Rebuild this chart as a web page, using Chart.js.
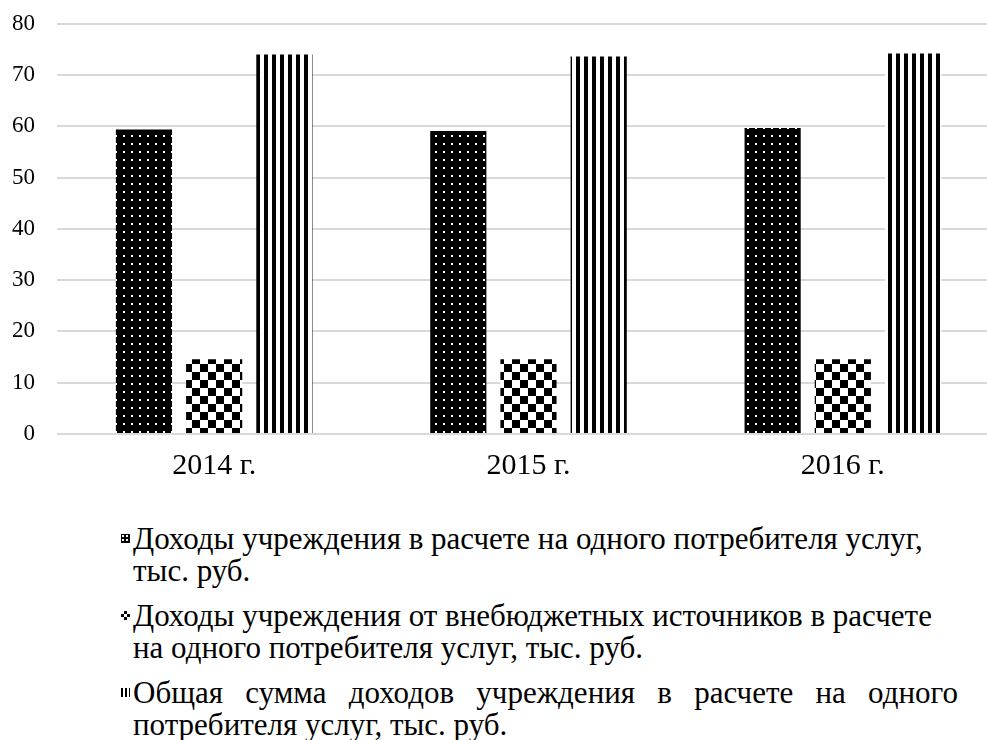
<!DOCTYPE html>
<html lang="ru">
<head>
<meta charset="utf-8">
<script src="https://cdn.jsdelivr.net/npm/chart.js@4"></script>
<style>
  html, body { margin: 0; padding: 0; background: #fff; overflow: hidden; }
  body { width: 987px; height: 740px; position: relative; }
  #wrap { position: absolute; left: 0; top: -12px; width: 1000px; height: 510px; }
  .legend { position: absolute; left: 0; top: 523px; width: 987px;
    font-family: "Liberation Serif", "Times New Roman", serif; font-size: 31px;
    line-height: 32px; color: #000; }
  .item { position: relative; padding-left: 133px; width: 825px; margin-bottom: 13px; }
  .item.just { text-align: justify; }
  .sw { position: absolute; left: 121px; top: 11px; width: 9px; height: 9px; }
</style>
</head>
<body>
<div id="wrap"><canvas id="grafico"></canvas></div>
<div class="legend" id="legenda"></div>

<script>
// ----- dados -----
const anos = ['2014 г.', '2015 г.', '2016 г.'];
const serieNomes = [
  'Доходы учреждения в расчете на одного потребителя услуг, тыс. руб.',
  'Доходы учреждения от внебюджетных источников в расчете на одного потребителя услуг, тыс. руб.',
  'Общая сумма доходов учреждения в расчете на одного потребителя услуг, тыс. руб.'
];
const dohodyNaPotrebitelya = [59.4, 59.1, 59.7];
const vnebyudzhetnye = [14.6, 14.6, 14.6];
const obshchayaSumma = [74.0, 73.6, 74.2];
const yTicks = [0, 10, 20, 30, 40, 50, 60, 70, 80];

// ----- padrões (hachuras) -----
function makePattern(size, draw) {
  const c = document.createElement('canvas');
  c.width = size; c.height = size;
  const g = c.getContext('2d');
  draw(g, size);
  return c;
}

const tileDots = makePattern(8, (g, s) => {
  g.fillStyle = '#000'; g.fillRect(0, 0, s, s);
  g.fillStyle = '#fff'; g.fillRect(3, 3, 2, 2);
});
const tileCheck = makePattern(16, (g, s) => {
  g.fillStyle = '#fff'; g.fillRect(0, 0, s, s);
  g.fillStyle = '#000'; g.fillRect(0, 0, 8, 8); g.fillRect(8, 8, 8, 8);
});
const tileStripes = makePattern(8, (g, s) => {
  g.fillStyle = '#fff'; g.fillRect(0, 0, s, s);
  g.fillStyle = '#000'; g.fillRect(0, 0, 4, s);
});

const ctxGrafico = document.getElementById('grafico').getContext('2d');
const pDots = ctxGrafico.createPattern(tileDots, 'repeat');
const pCheck = ctxGrafico.createPattern(tileCheck, 'repeat');
const pStripes = ctxGrafico.createPattern(tileStripes, 'repeat');

const fonte = '"Liberation Serif", "Times New Roman", serif';

new Chart(ctxGrafico, {
  type: 'bar',
  data: {
    labels: anos,
    datasets: [
      { label: serieNomes[0], data: dohodyNaPotrebitelya, backgroundColor: pDots, borderWidth: 0 },
      { label: serieNomes[1], data: vnebyudzhetnye, backgroundColor: pCheck, borderWidth: 0 },
      { label: serieNomes[2], data: obshchayaSumma, backgroundColor: pStripes, borderWidth: 0 }
    ]
  },
  options: {
    responsive: true,
    maintainAspectRatio: false,
    animation: false,
    layout: { padding: { top: 0, left: 0, right: 0, bottom: 0 } },
    datasets: { bar: { categoryPercentage: 0.67, barPercentage: 0.8 } },
    scales: {
      y: {
        min: 0, max: 80,
        afterBuildTicks: s => { s.ticks = yTicks.map(v => ({ value: v })); },
        afterFit: s => { s.width = 57; },
        border: { display: false },
        grid: { color: '#d9d9d9', lineWidth: 2, drawTicks: false },
        ticks: { color: '#000', padding: 22, font: { family: fonte, size: 23 } }
      },
      x: {
        border: { display: false },
        grid: { display: false, drawTicks: false },
        ticks: { color: '#000', padding: 14, font: { family: fonte, size: 30 } }
      }
    },
    plugins: {
      legend: { display: false },
      tooltip: { enabled: false }
    }
  }
});

// ----- legenda em HTML -----
const legenda = document.getElementById('legenda');
const swatches = [
  'background:#000; background-image: radial-gradient(#fff 1px, transparent 1.2px); background-size: 4px 4px;',
  'background: conic-gradient(#000 25%, #fff 0 50%, #000 0 75%, #fff 0); background-size: 6px 6px;',
  'background: repeating-linear-gradient(90deg, #000 0 2px, #fff 2px 4px);'
];
serieNomes.forEach((nome, i) => {
  const item = document.createElement('div');
  item.classList.add('item');
  if (i === 2) item.classList.add('just');
  item.innerHTML = `<span class="sw" style="${swatches[i]}"></span>${nome}`;
  legenda.appendChild(item);
});
</script>
</body>
</html>
